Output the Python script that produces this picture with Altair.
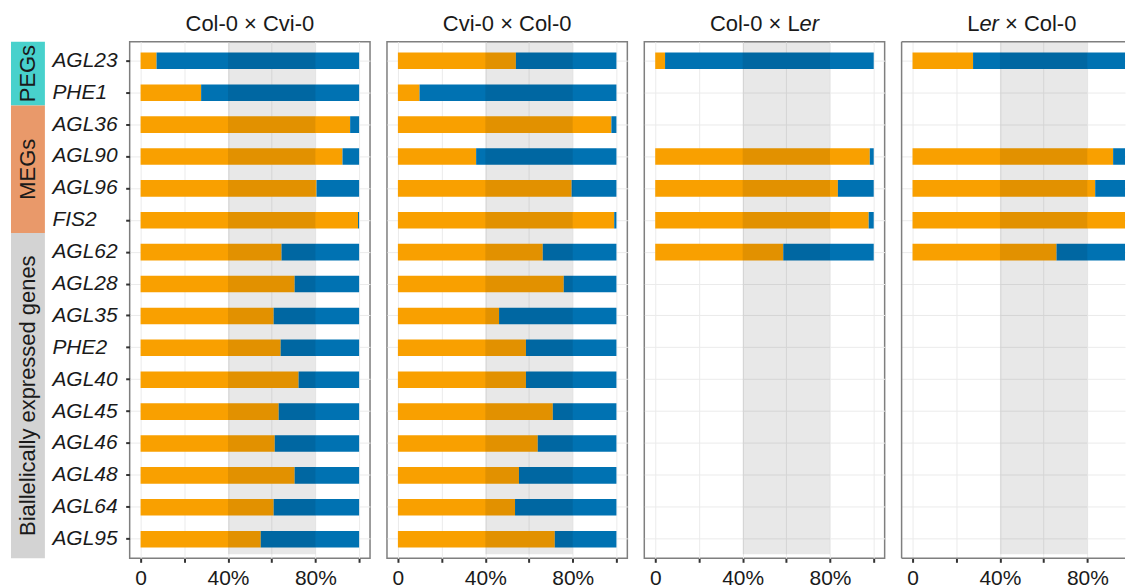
import altair as alt
import pandas as pd

# ---------------- data ----------------
genes = ["AGL23", "PHE1", "AGL36", "AGL90", "AGL96", "FIS2", "AGL62", "AGL28",
         "AGL35", "PHE2", "AGL40", "AGL45", "AGL46", "AGL48", "AGL64", "AGL95"]

# maternal (orange) fraction per gene, one list per cross; None = not measured
col_cvi = [0.073, 0.277, 0.959, 0.924, 0.805, 0.995, 0.645, 0.705,
           0.609, 0.641, 0.723, 0.632, 0.614, 0.705, 0.609, 0.550]
cvi_col = [0.540, 0.099, 0.977, 0.358, 0.795, 0.990, 0.663, 0.759,
           0.463, 0.586, 0.586, 0.709, 0.640, 0.554, 0.536, 0.718]
col_ler = [0.045, None, None, 0.982, 0.836, 0.977, 0.586, None,
           None, None, None, None, None, None, None, None]
ler_col = [0.277, None, None, 0.918, 0.836, 0.982, 0.659, None,
           None, None, None, None, None, None, None, None]

groups = ["PEGs", "MEGs", "Biallelically expressed genes"]
group_start = [0.4, 2.4, 6.4]
group_end = [2.4, 6.4, 16.6]
group_colors = ["#48D1CC", "#E9996A", "#D3D3D3"]

band_lo = [0.4]
band_hi = [0.8]

x_ticks = [0, 0.2, 0.4, 0.6, 0.8, 1.0]

ORANGE = "#F9A000"
BLUE = "#0072B2"
FONT = "Liberation Sans"
W, H = 241, 518
W_LAST = 224            # last panel is cut by the page edge in the reference
PX_PER_UNIT = W / 1.1
TXT = "#1a1a1a"
FRAME = "#7f7f7f"
TITLE_SIZE = 22
LABEL_SIZE = 21

y_scale = alt.Scale(domain=genes, paddingInner=0.48, paddingOuter=0.34)


def x_axis(values):
    return alt.Axis(
        values=values,
        labelExpr="datum.value == 0 ? '0' : (abs(datum.value - 0.4) < 0.001 ? '40%' : (abs(datum.value - 0.8) < 0.001 ? '80%' : ''))",
        grid=True, gridColor="#EBEBEB", gridWidth=1,
        domain=False, ticks=True, tickColor="#333333", tickSize=4, tickWidth=2,
        labelFont=FONT, labelFontSize=LABEL_SIZE, labelColor=TXT, labelPadding=5,
        labelFlush=False, title=None,
    )


def y_axis(show):
    if show:
        return alt.Axis(
            grid=True, gridColor="#EBEBEB", gridWidth=1, domain=False,
            ticks=True, tickColor="#333333", tickSize=4, tickWidth=2,
            labelFont=FONT, labelFontSize=LABEL_SIZE, labelFontStyle="italic",
            labelColor=TXT, labelAlign="left", labelPadding=74, title=None,
        )
    return alt.Axis(grid=True, gridColor="#EBEBEB", gridWidth=1, domain=False,
                    ticks=False, labels=False, title=None)


def title_layers(parts):
    """parts: list of (text, italic, align, x_offset_from_center)"""
    layers = []
    for text, italic, align, dx in parts:
        df = pd.DataFrame({"t": [text]})
        layers.append(
            alt.Chart(df).mark_text(
                font=FONT, fontSize=TITLE_SIZE, color=TXT, align=align,
                baseline="alphabetic", fontStyle="italic" if italic else "normal",
            ).encode(x=alt.value(W / 2 + dx), y=alt.value(-11), text="t:N")
        )
    return layers


def panel(values, parts, show_y=False, strips=False, last=False):
    width = W_LAST if last else W
    x_scale = alt.Scale(domain=[-0.05, -0.05 + width / PX_PER_UNIT], nice=False, zero=False)
    ticks = [t for t in x_ticks if t <= -0.05 + width / PX_PER_UNIT]
    df = pd.DataFrame({"gene": genes, "mat": values}).dropna()
    df["zero"] = 0.0
    df["one"] = 1.0
    base = alt.Chart(df)
    orange = base.mark_bar(color=ORANGE, clip=True).encode(
        x=alt.X("zero:Q", scale=x_scale, axis=x_axis(ticks)),
        x2="mat:Q",
        y=alt.Y("gene:N", scale=y_scale, axis=y_axis(show_y), sort=genes),
    )
    blue = base.mark_bar(color=BLUE, clip=True).encode(
        x="mat:Q", x2="one:Q", y=alt.Y("gene:N", sort=genes)
    )
    band = alt.Chart(pd.DataFrame({"lo": band_lo, "hi": band_hi})).mark_rect(
        color="black", opacity=0.09
    ).encode(x="lo:Q", x2="hi:Q", y=alt.value(0), y2=alt.value(H - 4))
    layers = [orange, blue, band] + title_layers(parts)
    if last:
        fr = pd.DataFrame({"k": [0]})
        rule = dict(color=FRAME, strokeWidth=1.5)
        layers += [
            alt.Chart(fr).mark_rule(**rule).encode(x=alt.value(0), x2=alt.value(width), y=alt.value(0)),
            alt.Chart(fr).mark_rule(**rule).encode(x=alt.value(0), x2=alt.value(width), y=alt.value(H)),
            alt.Chart(fr).mark_rule(**rule).encode(x=alt.value(0), y=alt.value(0), y2=alt.value(H)),
        ]
    ch = alt.layer(*layers)
    if strips:
        sdf = pd.DataFrame({"group": groups, "start": group_start, "end": group_end})
        sdf["mid"] = (sdf["start"] + sdf["end"]) / 2
        sy = alt.Scale(domain=[0.4, 16.6], reverse=True, nice=False, zero=False)
        rect = alt.Chart(sdf).mark_rect().encode(
            x=alt.value(-119), x2=alt.value(-85),
            y=alt.Y("start:Q", scale=sy, axis=None), y2="end:Q",
            color=alt.Color("group:N", scale=alt.Scale(domain=groups, range=group_colors), legend=None),
        )
        txt = alt.Chart(sdf).mark_text(
            font=FONT, fontSize=TITLE_SIZE, color=TXT, angle=270, align="center", baseline="middle"
        ).encode(x=alt.value(-102), y=alt.Y("mid:Q", scale=sy, axis=None), text="group:N")
        ch = alt.layer(ch, alt.layer(rect, txt)).resolve_scale(y="independent", color="independent")
    ch = ch.properties(width=width, height=H)
    if last:
        ch = ch.properties(view=alt.ViewBackground(stroke="transparent"))
    return ch


p1 = panel(col_cvi, [("Col-0 × Cvi-0", False, "center", 0)], show_y=True, strips=True)
p2 = panel(cvi_col, [("Cvi-0 × Col-0", False, "center", 0)])
p3 = panel(col_ler, [("Col-0 × L", False, "right", 35.2), ("er", True, "left", 35.2)])
p4 = panel(ler_col, [("L", False, "right", -42.5), ("er", True, "left", -42.5),
                     ("× Col-0", False, "left", -16.8)], last=True)

chart = alt.hconcat(p1, p2, p3, p4, spacing=17, bounds="flush").properties(
    padding={"left": 2, "top": 3, "right": 0, "bottom": 0}
).configure_view(stroke=FRAME, strokeWidth=1.5)

chart.save("out.html", embed_options={"renderer": "svg", "actions": False})
